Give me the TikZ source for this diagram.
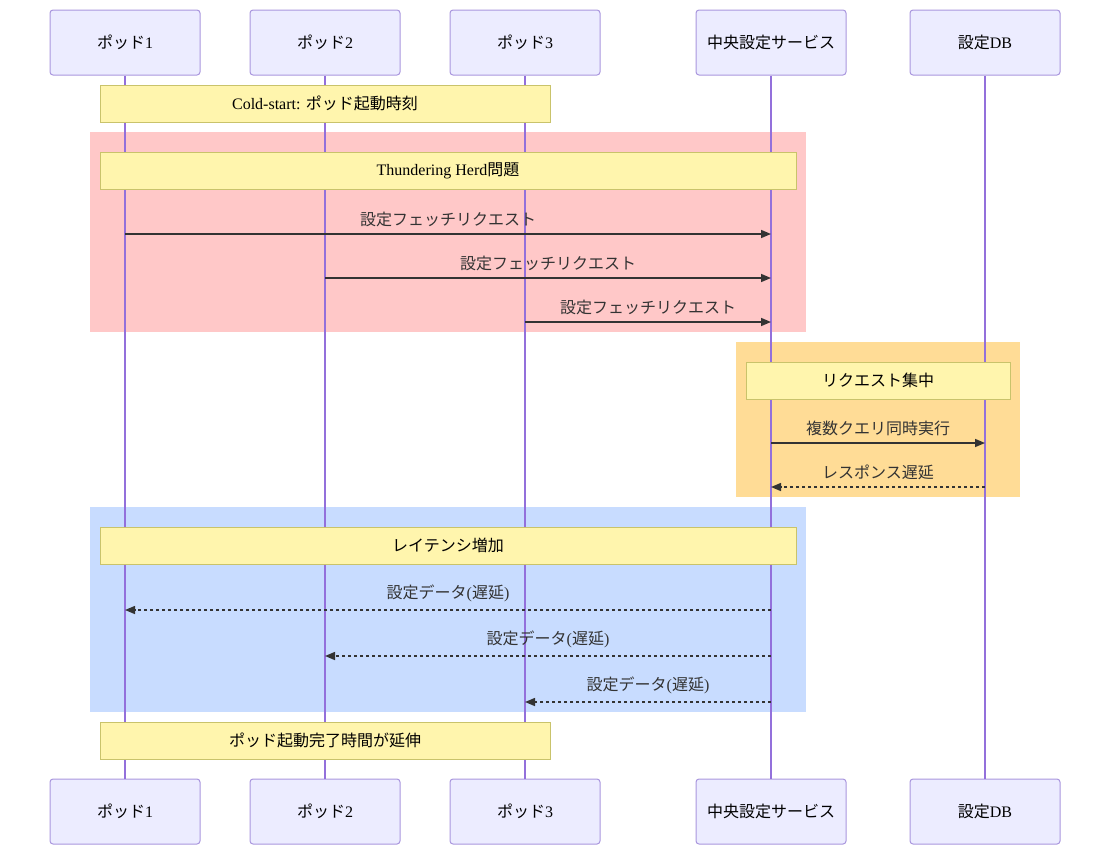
\documentclass[tikz,border=0pt]{standalone}
\usepackage{fontspec}
\setmainfont{Liberation Serif}
\newfontfamily\jp{Noto Sans CJK JP}
\usetikzlibrary{arrows.meta,backgrounds}
\definecolor{actorfill}{HTML}{ECECFF}
\definecolor{actorline}{HTML}{A996DE}
\definecolor{lifeline}{HTML}{9370DB}
\definecolor{notefill}{HTML}{FFF5AD}
\definecolor{noteline}{HTML}{C9C36B}
\definecolor{msgline}{HTML}{333333}
\definecolor{pinkbg}{HTML}{FFC8C8}
\definecolor{orangebg}{HTML}{FFDC96}
\definecolor{bluebg}{HTML}{C8DCFF}

\begin{document}
\begin{tikzpicture}[x=1pt,y=-1pt,font=\fontsize{16}{19}\selectfont,
actor/.style={draw=actorline, fill=actorfill, rounded corners=3pt, minimum width=150pt,
    minimum height=65pt, line width=1pt, text=black},
note/.style={draw=noteline, fill=notefill, minimum height=37pt, line width=1pt, text=black},
life/.style={draw=lifeline, line width=1.5pt},
msg/.style={draw=msgline, line width=1.5pt, -{Triangle[length=10pt,width=8pt]}},
reply/.style={msg, dash pattern=on 3pt off 3pt},
lbl/.style={text=msgline, inner sep=0pt}]
\useasboundingbox (0,0) rectangle (1110,855);

% loop regions
\begin{scope}[on background layer]
\fill[pinkbg] (90,132) rectangle (806,332);
\fill[orangebg] (736,342) rectangle (1020,497);
\fill[bluebg] (90,507) rectangle (806,712);
\end{scope}

% participants
\foreach \n/\x/\t in {p1/125/{{\jp ポッド}1}, p2/325/{{\jp ポッド}2}, p3/525/{{\jp ポッド}3},
    svc/771/{\jp 中央設定サービス}, db/985/{{\jp 設定}DB}} {
  \node[actor] (\n) at (\x,42.5) {\t};
  \node[actor] (\n b) at (\x,811.5) {\t};
  \draw[life] (\n.south) -- (\n b.north);
}

% notes
\node[note, minimum width=450pt] (cold) at (325,103.5) {Cold-start: {\jp ポッド起動時刻}};
\node[note, minimum width=696pt] (herd) at (448,171) {Thundering Herd{\jp 問題}};
\node[note, minimum width=264pt] (conc) at (878,380.5) {\jp リクエスト集中};
\node[note, minimum width=696pt] (lat) at (448,545.5) {\jp レイテンシ増加};
\node[note, minimum width=450pt] (done) at (325,740.5) {\jp ポッド起動完了時間が延伸};

% requests
\node[lbl] (f1) at (448,219) {\jp 設定フェッチリクエスト};
\draw[msg] (p1 |- 0,234) -- (svc |- 0,234);
\node[lbl] (f2) at (548,263) {\jp 設定フェッチリクエスト};
\draw[msg] (p2 |- 0,278) -- (svc |- 0,278);
\node[lbl] (f3) at (648,307) {\jp 設定フェッチリクエスト};
\draw[msg] (p3 |- 0,322) -- (svc |- 0,322);

% database
\node[lbl] (q) at (878,428) {\jp 複数クエリ同時実行};
\draw[msg] (svc |- 0,443) -- (db |- 0,443);
\node[lbl] (r) at (878,472) {\jp レスポンス遅延};
\draw[reply] (db |- 0,487) -- (svc |- 0,487);

% responses
\node[lbl] (d1) at (448,593) {{\jp 設定データ}({\jp 遅延})};
\draw[reply] (svc |- 0,610) -- (p1 |- 0,610);
\node[lbl] (d2) at (548,639) {{\jp 設定データ}({\jp 遅延})};
\draw[reply] (svc |- 0,656) -- (p2 |- 0,656);
\node[lbl] (d3) at (648,685) {{\jp 設定データ}({\jp 遅延})};
\draw[reply] (svc |- 0,702) -- (p3 |- 0,702);
\end{tikzpicture}
\end{document}
